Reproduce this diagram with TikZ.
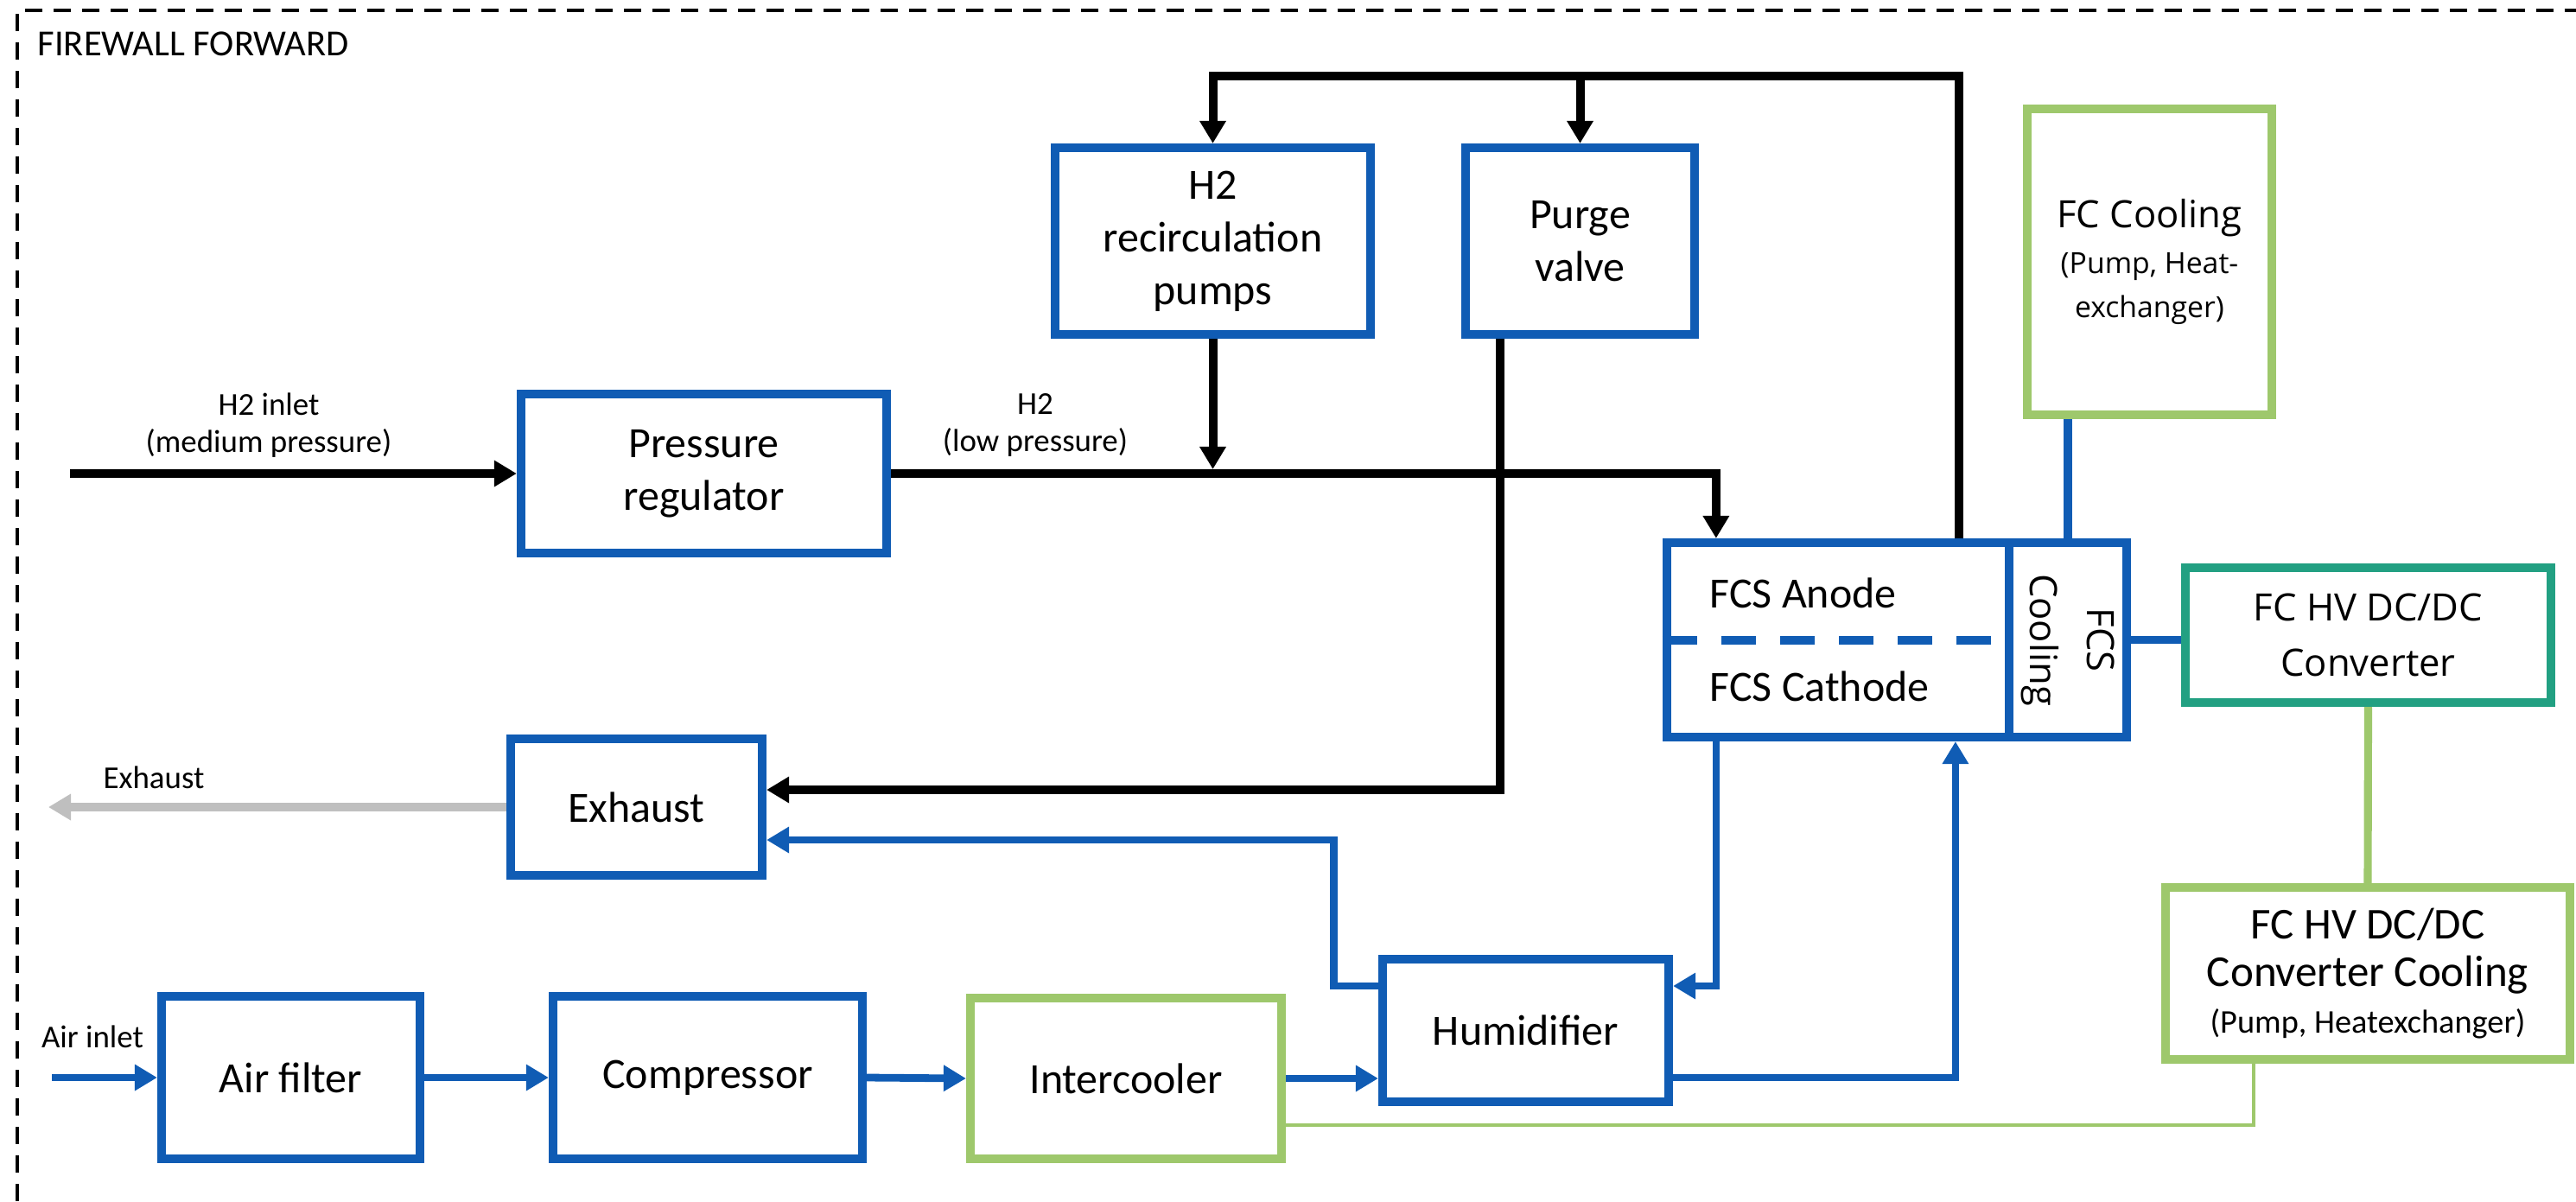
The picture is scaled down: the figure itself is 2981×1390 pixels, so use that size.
\documentclass[tikz,border=0pt]{standalone}
\usepackage{fontspec}
\setmainfont{Carlito}
\newfontfamily\widesans{Open Sans}
\usetikzlibrary{arrows.meta,calc}

\definecolor{fcblue}{RGB}{16,92,180}
\definecolor{fcgreen}{RGB}{158,200,108}
\definecolor{fcteal}{RGB}{34,160,130}
\definecolor{fcgray}{RGB}{191,191,191}

\newcommand\blocktext{\fontsize{14.2}{17.4}\selectfont}
\newcommand\labeltext{\fontsize{10.5}{12.3}\selectfont}
\newcommand\titletext{\fontsize{12.1}{14}\selectfont}
\newcommand\subtext{\fontsize{9.6}{12.3}\selectfont}

\begin{document}
\begin{tikzpicture}[x=0.01cm,y=-0.01cm,
  blockb/.style={draw=fcblue, line width=2.85pt, align=center, inner sep=0pt, font=\blocktext},
  blockg/.style={blockb, draw=fcgreen},
  blockt/.style={blockb, draw=fcteal},
  lbl/.style={align=center, inner sep=0pt, font=\labeltext},
  tip/.style={-{Triangle[length=0.26cm,width=0.29cm]}},
  blkflow/.style={draw=black, line width=2.85pt, tip},
  blueflow/.style={draw=fcblue, line width=2.5pt, tip},
  blueline/.style={draw=fcblue, line width=2.6pt},
  grayflow/.style={draw=fcgray, line width=2.6pt, tip},
  greenline/.style={draw=fcgreen, line width=2.6pt},
  thingreen/.style={draw=fcgreen, line width=1.2pt},
  border/.style={draw=black, line width=1.3pt, dash pattern=on 0.2cm off 0.13cm}
]
\useasboundingbox (0,0) rectangle (2981,1390);

% firewall boundary
\draw[border] (20,1390) -- (20,12) -- (2981,12);
\node[anchor=base west, inner sep=0pt, font=\titletext] (fw) at (43,64) {FIREWALL FORWARD};

% hydrogen path blocks
\node[blockb, minimum width=4.23cm, minimum height=1.84cm] (pr) at (814.5,548) {Pressure\\regulator};
\node[blockb, minimum width=3.65cm, minimum height=2.16cm] (h2rec) at (1403.5,279) {H2\\recirculation\\pumps};
\node[blockb, minimum width=2.65cm, minimum height=2.16cm] (purge) at (1828.5,279) {Purge\\valve};
\node[blockb, minimum width=2.91cm, minimum height=1.58cm] (exh) at (736.5,934) {Exhaust};

% fuel cell stack
\node[blockb, minimum width=3.96cm, minimum height=2.25cm] (fcs) at (2127,740.5) {};
\draw[draw=fcblue, line width=2.85pt, dash pattern=on 0.4cm off 0.28cm] (fcs.west) -- (fcs.east);
\node[anchor=west, inner sep=0pt, font=\blocktext] (anode) at (1978,686) {FCS Anode};
\node[anchor=west, inner sep=0pt, font=\blocktext] (cathode) at (1978,794) {FCS Cathode};
\node[blockb, minimum width=1.36cm, minimum height=2.25cm] (fcscool) at (2393,740.5) {};
\node[rotate=-90, align=center, inner sep=0pt, font={\widesans\fontsize{12.4}{18.5}\selectfont}] (fcscooltext) at (fcscool.center) {FCS\\Cooling};

% cooling and power electronics
\node[blockg, minimum width=2.83cm, minimum height=3.54cm, font={\widesans\fontsize{12.4}{14.5}\selectfont}] (fccool) at (2487.5,303)
  {FC Cooling\\[0.02cm]\subtext (Pump, Heat-\\\subtext exchanger)};
\node[blockt, minimum width=4.23cm, minimum height=1.56cm, font={\widesans\fontsize{12.4}{18.2}\selectfont}] (conv) at (2740.5,735) {FC HV DC/DC\\Converter};
\node[blockg, minimum width=4.68cm, minimum height=1.99cm, font={\fontsize{14.5}{15.8}\selectfont}] (convcool) at (2740,1126.5)
  {FC HV DC/DC\\Converter Cooling\\[-0.02cm]\fontsize{10.9}{13}\selectfont (Pump, Heatexchanger)};

% air path blocks
\node[blockb, minimum width=2.99cm, minimum height=1.88cm] (airf) at (336.5,1247) {Air filter};
\node[blockb, minimum width=3.58cm, minimum height=1.88cm] (comp) at (819,1247) {Compressor};
\node[blockg, minimum width=3.60cm, minimum height=1.86cm] (interc) at (1303,1248) {Intercooler};
\node[blockb, minimum width=3.31cm, minimum height=1.65cm] (hum) at (1765.5,1192.5) {Humidifier};

% free ends
\coordinate (h2in) at (81,548);
\coordinate (airin) at (60,1247);
\coordinate (exhout) at (56,934);

% labels
\node[lbl] (lh2in) at (311,492) {H2 inlet\\(medium pressure)};
\node[lbl] (lh2lp) at (1198,492) {H2\\(low pressure)};
\node[lbl] (lexh) at (178,900) {Exhaust};
\node[lbl] (lair) at (107,1200) {Air inlet};

% hydrogen connectors
\draw[blkflow] (h2in) -- (pr.west);
\draw[blkflow] (pr.east) -| ($(fcs.north west)+(62,0)$);
\draw[blkflow] (h2rec.south) -- ($(h2rec.south |- pr.east)+(0,-5)$);
\draw[blkflow] ($(fcs.north west)+(343,0)$) |- ($(h2rec.north)+(0,-78)$) -- (h2rec.north);
\draw[blkflow] ($(purge.north)+(0,-73)$) -- (purge.north);
\draw[blkflow] ($(purge.south)+(-93,0)$) |- ($(exh.east)+(0,-20)$);
\draw[grayflow] (exh.west) -- (exhout);

% air connectors
\draw[blueflow] (airin) -- (airf.west);
\draw[blueflow] (airf.east) -- (comp.west);
\draw[blueflow] (comp.east) -- (interc.west);
\draw[blueflow] (interc.east) -- (interc.east -| hum.west);
\draw[blueflow] ($(hum.east)+(0,54.5)$) -| ($(fcs.south west)+(339,0)$);
\draw[blueflow] ($(fcs.south west)+(62,0)$) |- ($(hum.east)+(0,-51.5)$);
\draw[blueflow] ($(hum.west)+(0,-51.5)$) -| ($(exh.east)+(656,38)$) -- ($(exh.east)+(0,38)$);

% cooling and electrical links
\draw[blueline] (fcscool.north |- fccool.south) -- (fcscool.north);
\draw[blueline] (fcscool.east) -- (fcscool.east -| conv.west);
\draw[greenline] (conv.south) -- (convcool.north);
\draw[thingreen] ($(convcool.south)+(-132,0)$) |- ($(interc.east)+(0,54)$);
\end{tikzpicture}
\end{document}
